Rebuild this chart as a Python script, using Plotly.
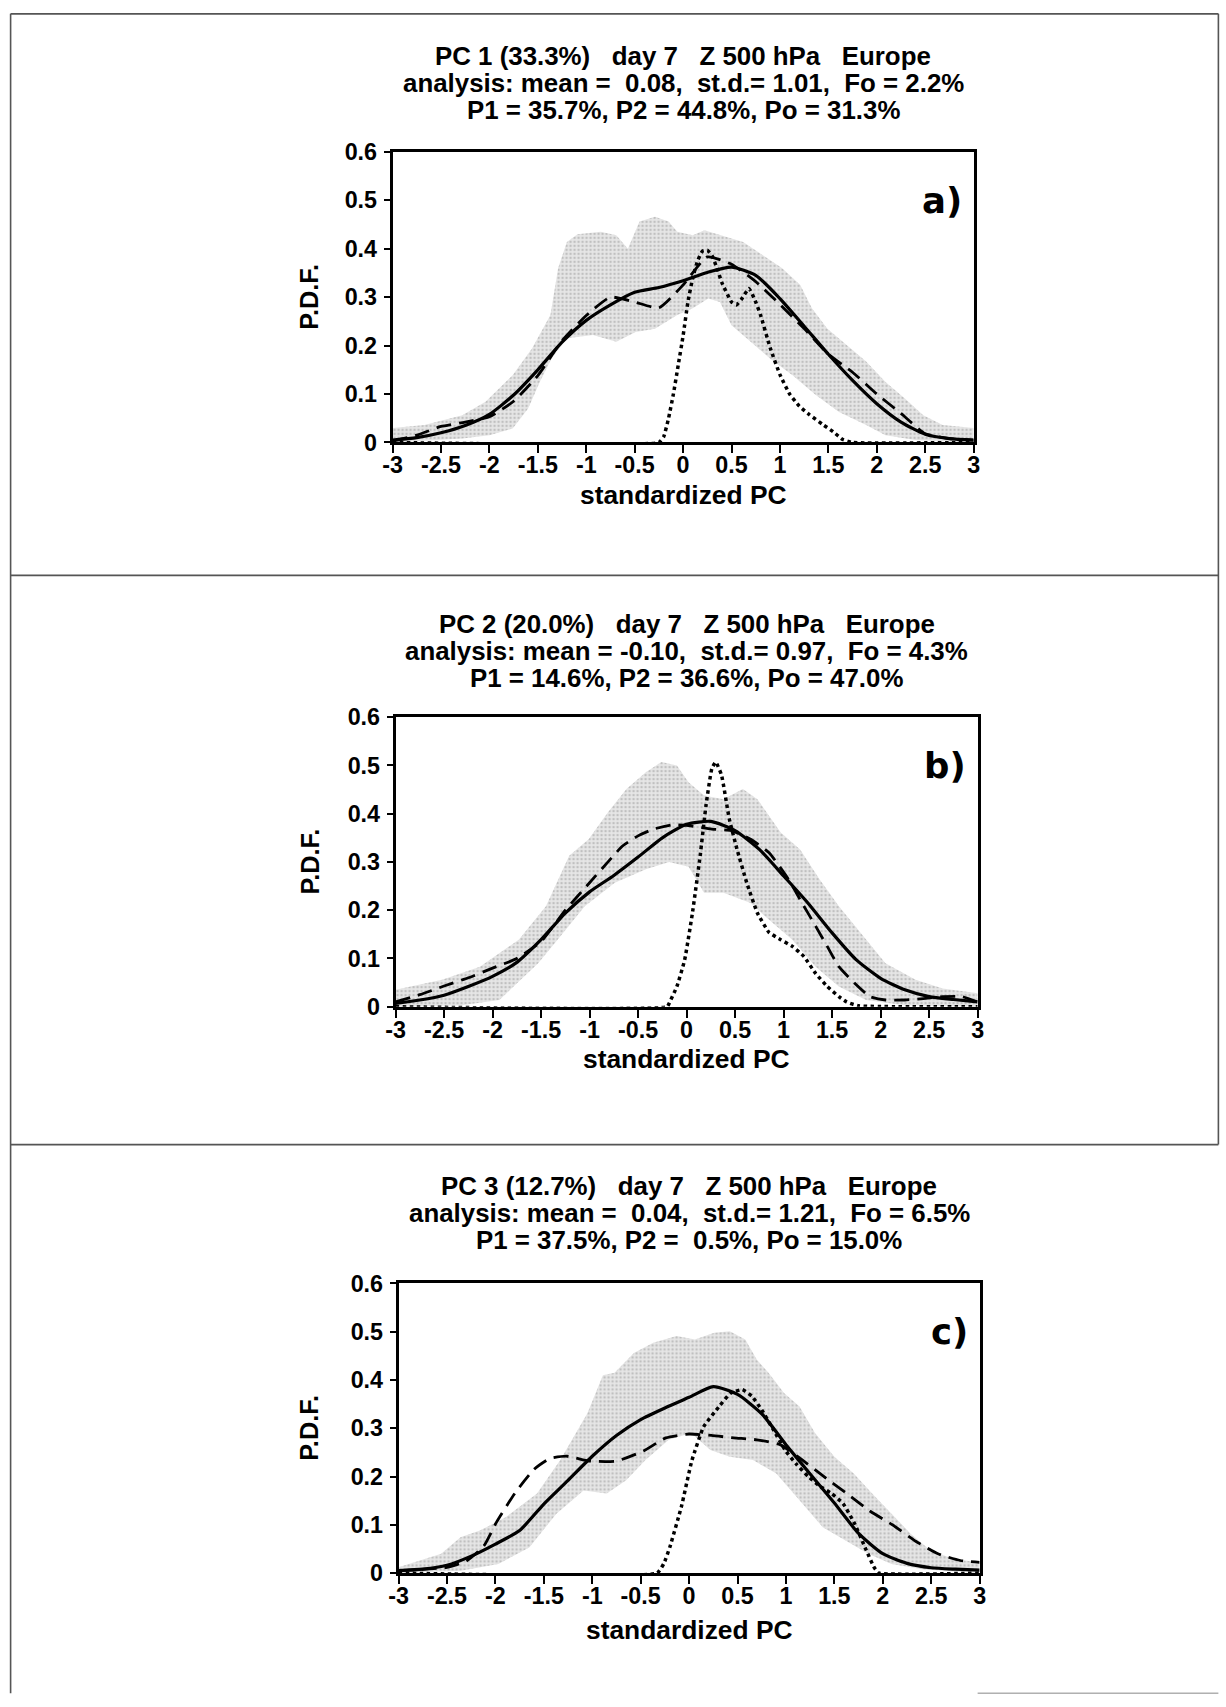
import plotly.graph_objects as go

W, H = 1226, 1707
# measured mapping between figure pixels and the photographed page: page = S * fig + offset
S, OX, OY = 0.986, 9.5, 11.0

# ---------------- data ----------------
GRID = [-3.0, -2.75, -2.5, -2.25, -2.0, -1.75, -1.5, -1.25, -1.0, -0.75, -0.5, -0.25,
        0.0, 0.25, 0.5, 0.75, 1.0, 1.25, 1.5, 1.75, 2.0, 2.25, 2.5, 2.75, 3.0]

XTICKS = [-3, -2.5, -2, -1.5, -1, -0.5, 0, 0.5, 1, 1.5, 2, 2.5, 3]
XTICK_LABELS = ["-3", "-2.5", "-2", "-1.5", "-1", "-0.5", "0", "0.5", "1", "1.5", "2", "2.5", "3"]
YTICKS = [0, 0.1, 0.2, 0.3, 0.4, 0.5, 0.6]
YTICK_LABELS = ["0", "0.1", "0.2", "0.3", "0.4", "0.5", "0.6"]

# panel a
A_SOLID = [0.005, 0.01, 0.02, 0.035, 0.058, 0.098, 0.15, 0.207, 0.252, 0.284, 0.31, 0.32,
           0.334, 0.351, 0.362, 0.345, 0.297, 0.24, 0.182, 0.128, 0.08, 0.042, 0.017, 0.008, 0.005]
A_DASH = [0.003, 0.015, 0.033, 0.042, 0.053, 0.085, 0.138, 0.21, 0.262, 0.3, 0.29, 0.278,
          0.325, 0.383, 0.368, 0.332, 0.285, 0.235, 0.182, 0.145, 0.1, 0.06, 0.018, 0.008, 0.005]
A_DOT_X = [-3, -0.25, -0.2, -0.15, -0.1, -0.05, 0, 0.05, 0.1, 0.15, 0.2, 0.25, 0.3, 0.35, 0.4,
           0.5, 0.55, 0.6, 0.68, 0.75, 0.8, 0.9, 1.0, 1.1, 1.2, 1.3, 1.45, 1.55, 1.65, 1.75, 3]
A_DOT_Y = [0, 0, 0.012, 0.05, 0.1, 0.16, 0.22, 0.29, 0.34, 0.375, 0.395, 0.397, 0.385, 0.36, 0.33,
           0.29, 0.284, 0.295, 0.318, 0.29, 0.263, 0.195, 0.14, 0.1, 0.075, 0.058, 0.036, 0.022, 0.006, 0, 0]
A_UP_X = [-3, -2.67, -2.28, -2.04, -1.76, -1.56, -1.37, -1.29, -1.2, -1.09, -0.85, -0.69, -0.57,
          -0.45, -0.29, -0.15, -0.06, 0.1, 0.22, 0.38, 0.62, 0.82, 1.02, 1.21, 1.33, 1.49, 1.69,
          1.89, 2.09, 2.29, 2.48, 2.68, 3]
A_UP_Y = [0.03, 0.036, 0.056, 0.084, 0.139, 0.194, 0.263, 0.36, 0.414, 0.43, 0.435, 0.428, 0.4,
          0.456, 0.466, 0.456, 0.435, 0.428, 0.438, 0.428, 0.414, 0.387, 0.36, 0.325, 0.277, 0.235,
          0.2, 0.167, 0.125, 0.091, 0.056, 0.036, 0.03]
A_LO_X = [-3, -2.28, -2.0, -1.76, -1.6, -1.48, -1.36, -1.2, -0.93, -0.69, -0.49, -0.29, -0.06,
          0.1, 0.26, 0.38, 0.5, 0.7, 0.9, 1.13, 1.37, 1.61, 1.89, 2.09, 2.4, 3]
A_LO_Y = [0, 0.008, 0.015, 0.029, 0.07, 0.125, 0.173, 0.215, 0.222, 0.208, 0.228, 0.235, 0.263,
          0.277, 0.297, 0.29, 0.242, 0.208, 0.173, 0.139, 0.098, 0.063, 0.036, 0.015, 0.005, 0]

# panel b
B_SOLID = [0.007, 0.014, 0.024, 0.042, 0.063, 0.092, 0.139, 0.194, 0.238, 0.272, 0.31, 0.35,
           0.378, 0.384, 0.365, 0.326, 0.271, 0.215, 0.153, 0.097, 0.059, 0.035, 0.021, 0.015, 0.01]
B_DASH_X = [-3, -2.75, -2.5, -2.25, -2, -1.75, -1.5, -1.25, -1, -0.81, -0.66, -0.5, -0.34, -0.14,
            0.02, 0.26, 0.46, 0.66, 0.85, 1.05, 1.17, 1.33, 1.45, 1.57, 1.73, 1.89, 2.05, 2.25,
            2.44, 2.64, 2.84, 3]
B_DASH_Y = [0.01, 0.025, 0.043, 0.06, 0.08, 0.1, 0.135, 0.2, 0.257, 0.3, 0.333, 0.354, 0.368,
            0.377, 0.375, 0.368, 0.365, 0.347, 0.319, 0.264, 0.222, 0.167, 0.125, 0.083, 0.049,
            0.021, 0.014, 0.014, 0.017, 0.021, 0.021, 0.01]
B_DOT_X = [-3, -0.2, -0.18, -0.1, -0.02, 0.06, 0.14, 0.2, 0.26, 0.3, 0.36, 0.44, 0.52, 0.62,
           0.73, 0.85, 0.97, 1.09, 1.21, 1.33, 1.45, 1.57, 1.65, 1.77, 3]
B_DOT_Y = [0, 0, 0.007, 0.042, 0.097, 0.194, 0.313, 0.417, 0.493, 0.507, 0.48, 0.389, 0.326,
           0.257, 0.194, 0.154, 0.139, 0.125, 0.104, 0.069, 0.042, 0.021, 0.01, 0.002, 0]
B_UP_X = [-3, -2.52, -2.13, -1.73, -1.45, -1.21, -1.01, -0.81, -0.62, -0.42, -0.26, -0.1, 0.02,
          0.18, 0.38, 0.58, 0.73, 0.97, 1.17, 1.37, 1.57, 1.85, 2.05, 2.36, 2.64, 3]
B_UP_Y = [0.035, 0.056, 0.083, 0.139, 0.208, 0.313, 0.347, 0.403, 0.451, 0.486, 0.507, 0.5, 0.465,
          0.4375, 0.43, 0.451, 0.43, 0.361, 0.326, 0.264, 0.208, 0.139, 0.09, 0.056, 0.038, 0.028]
B_LO_X = [-3, -2.32, -1.93, -1.53, -1.33, -1.05, -0.74, -0.42, -0.18, 0.02, 0.18, 0.38, 0.66,
          0.85, 1.09, 1.33, 1.57, 1.85, 2.25, 3]
B_LO_Y = [0, 0.003, 0.014, 0.09, 0.139, 0.208, 0.257, 0.285, 0.3, 0.29, 0.236, 0.236, 0.215,
          0.18, 0.139, 0.083, 0.042, 0.014, 0.003, 0]

# panel c
C_SOLID = [0.005, 0.008, 0.016, 0.035, 0.06, 0.088, 0.143, 0.192, 0.242, 0.285, 0.318, 0.342,
           0.364, 0.386, 0.37, 0.33, 0.266, 0.205, 0.145, 0.082, 0.04, 0.02, 0.011, 0.008, 0.006]
C_DASH_X = [-3, -2.5, -2.3, -2.12, -1.99, -1.8, -1.6, -1.44, -1.26, -1.03, -0.75, -0.47, -0.24,
            0, 0.23, 0.46, 0.7, 0.94, 1.13, 1.41, 1.64, 1.87, 2.1, 2.34, 2.57, 2.8, 3]
C_DASH_Y = [0.005, 0.012, 0.025, 0.056, 0.105, 0.165, 0.215, 0.237, 0.242, 0.232, 0.232, 0.253,
            0.28, 0.288, 0.285, 0.28, 0.276, 0.266, 0.24, 0.197, 0.163, 0.128, 0.1, 0.066, 0.04,
            0.026, 0.022]
C_DOT_X = [-3, -0.33, -0.26, -0.2, -0.08, 0.03, 0.15, 0.31, 0.43, 0.55, 0.65, 0.75, 0.87, 0.99,
           1.11, 1.23, 1.35, 1.47, 1.59, 1.71, 1.83, 1.91, 1.96, 3]
C_DOT_Y = [0, 0, 0.02, 0.053, 0.137, 0.234, 0.303, 0.345, 0.373, 0.38, 0.366, 0.338, 0.297,
           0.255, 0.225, 0.2, 0.18, 0.165, 0.144, 0.102, 0.047, 0.012, 0, 0]
C_UP_X = [-3, -2.56, -2.36, -2.16, -1.89, -1.57, -1.33, -1.05, -0.89, -0.77, -0.57, -0.37, -0.13,
          0.06, 0.26, 0.42, 0.58, 0.7, 0.82, 0.98, 1.14, 1.3, 1.5, 1.7, 1.89, 2.09, 2.29, 2.49,
          2.73, 3]
C_UP_Y = [0.012, 0.04, 0.074, 0.088, 0.116, 0.165, 0.234, 0.331, 0.41, 0.415, 0.456, 0.477,
          0.491, 0.484, 0.498, 0.501, 0.484, 0.442, 0.415, 0.373, 0.345, 0.29, 0.241, 0.206,
          0.165, 0.123, 0.081, 0.047, 0.029, 0.022]
C_LO_X = [-3, -2.36, -1.97, -1.65, -1.37, -1.09, -0.85, -0.65, -0.45, -0.21, 0.02, 0.22, 0.42,
          0.66, 0.9, 1.14, 1.38, 1.62, 1.85, 2.09, 2.41, 3]
C_LO_Y = [0, 0.005, 0.019, 0.053, 0.123, 0.171, 0.165, 0.192, 0.234, 0.276, 0.29, 0.255, 0.241,
          0.234, 0.206, 0.151, 0.095, 0.067, 0.04, 0.019, 0.008, 0]

A_TITLE = ["PC 1 (33.3%)   day 7   Z 500 hPa   Europe",
           "analysis: mean =  0.08,  st.d.= 1.01,  Fo = 2.2%",
           "P1 = 35.7%, P2 = 44.8%, Po = 31.3%"]
B_TITLE = ["PC 2 (20.0%)   day 7   Z 500 hPa   Europe",
           "analysis: mean = -0.10,  st.d.= 0.97,  Fo = 4.3%",
           "P1 = 14.6%, P2 = 36.6%, Po = 47.0%"]
C_TITLE = ["PC 3 (12.7%)   day 7   Z 500 hPa   Europe",
           "analysis: mean =  0.04,  st.d.= 1.21,  Fo = 6.5%",
           "P1 = 37.5%, P2 =  0.5%, Po = 15.0%"]

PANELS = [
    dict(tag="a)", solid=A_SOLID, dash=(GRID, A_DASH), dot=(A_DOT_X, A_DOT_Y),
         up=(A_UP_X, A_UP_Y), lo=(A_LO_X, A_LO_Y), title=A_TITLE),
    dict(tag="b)", solid=B_SOLID, dash=(B_DASH_X, B_DASH_Y), dot=(B_DOT_X, B_DOT_Y),
         up=(B_UP_X, B_UP_Y), lo=(B_LO_X, B_LO_Y), title=B_TITLE),
    dict(tag="c)", solid=C_SOLID, dash=(C_DASH_X, C_DASH_Y), dot=(C_DOT_X, C_DOT_Y),
         up=(C_UP_X, C_UP_Y), lo=(C_LO_X, C_LO_Y), title=C_TITLE),
]

# ---------------- layout (target page pixels: left, right, top, bottom) ----------------
FRAMES = [(392, 973, 150, 441), (395, 977, 716, 1006), (398, 979, 1283, 1573)]
TITLE_Y = [(54, 81, 108), (623, 650, 677), (1185, 1212, 1240)]
XLABEL_Y = [494, 1058, 1630]
YLABEL_X = 309

FONT = "Liberation Sans, Arial, Helvetica, sans-serif"


def fx(p):
    return min(max(((p - OX) / S) / W, 0.0005), 0.9995)


def fy(p):
    return min(max(1 - ((p - OY) / S) / H, 0.0005), 0.9995)


def fs(size):
    return size / S


fig = go.Figure()
annotations = []
layout_axes = {}

for i, (pan, fr) in enumerate(zip(PANELS, FRAMES)):
    n = "" if i == 0 else str(i + 1)
    xa, ya = "x" + n, "y" + n
    ux, uy = pan["up"]
    lx, ly = pan["lo"]
    fig.add_trace(go.Scatter(
        x=list(ux) + list(lx)[::-1], y=list(uy) + list(ly)[::-1],
        fill="toself", mode="lines", line=dict(width=0),
        fillcolor="rgba(215,215,215,0.9)",
        fillpattern=dict(shape=".", fgcolor="#9a9a9a", bgcolor="#e6e6e6", size=4, solidity=0.3),
        xaxis=xa, yaxis=ya, hoverinfo="skip", showlegend=False))
    fig.add_trace(go.Scatter(
        x=GRID, y=pan["solid"], mode="lines",
        line=dict(color="black", width=3.2, shape="spline", smoothing=0.6),
        xaxis=xa, yaxis=ya, showlegend=False))
    fig.add_trace(go.Scatter(
        x=pan["dash"][0], y=pan["dash"][1], mode="lines",
        line=dict(color="black", width=2.8, dash="15px,8px", shape="spline", smoothing=0.5),
        xaxis=xa, yaxis=ya, showlegend=False))
    fig.add_trace(go.Scatter(
        x=pan["dot"][0], y=pan["dot"][1], mode="lines",
        line=dict(color="black", width=3.5, dash="3.5px,3.5px", shape="spline", smoothing=0.4),
        xaxis=xa, yaxis=ya, showlegend=False))

    l, r, t, b = fr
    common = dict(showgrid=False, zeroline=False, showline=True, linecolor="black",
                  linewidth=2.6, mirror=True, ticks="outside", tickcolor="black", tickwidth=2,
                  tickfont=dict(family=FONT, size=fs(23), color="black", weight="bold"),
                  fixedrange=True)
    layout_axes["xaxis" + n] = dict(domain=[fx(l), fx(r)], range=[-3, 3], tickvals=XTICKS,
                                    ticktext=XTICK_LABELS, ticklen=8, ticklabelstandoff=-8,
                                    anchor=ya, **common)
    layout_axes["yaxis" + n] = dict(domain=[fy(b), fy(t)], range=[0, 0.6], tickvals=YTICKS,
                                    ticktext=YTICK_LABELS, ticklen=6, ticklabelstandoff=2,
                                    anchor=xa, **common)

    cx = (l + r) / 2
    for line, yy in zip(pan["title"], TITLE_Y[i]):
        annotations.append(dict(text="<b>" + line.replace("  ", "\u00a0\u00a0") + "</b>",
                                x=fx(cx), y=fy(yy), xref="paper", yref="paper",
                                xanchor="center", yanchor="middle", showarrow=False,
                                font=dict(family=FONT, size=fs(25.5), color="black")))
    annotations.append(dict(text="<b>standardized PC</b>", x=fx(cx), y=fy(XLABEL_Y[i]),
                            xref="paper", yref="paper", xanchor="center", yanchor="middle",
                            showarrow=False, font=dict(family=FONT, size=fs(26), color="black")))
    annotations.append(dict(text="<b>P.D.F.</b>", x=fx(YLABEL_X), y=fy((t + b) / 2),
                            xref="paper", yref="paper", xanchor="center", yanchor="middle",
                            textangle=-90, showarrow=False,
                            font=dict(family=FONT, size=fs(25), color="black")))
    annotations.append(dict(text="<b>" + pan["tag"] + "</b>", x=2.9, y=0.5, xref=xa, yref=ya,
                            xanchor="right", yanchor="middle", showarrow=False,
                            font=dict(family="DejaVu Sans, sans-serif", size=fs(35), color="black")))

BORDER = "#555555"
shapes = [
    dict(type="line", xref="paper", yref="paper", x0=fx(6), x1=fx(6), y0=fy(5), y1=fy(1707),
         line=dict(color=BORDER, width=1.6)),
    dict(type="line", xref="paper", yref="paper", x0=fx(6), x1=fx(1221), y0=fy(5), y1=fy(5),
         line=dict(color=BORDER, width=1.6)),
    dict(type="line", xref="paper", yref="paper", x0=fx(1221), x1=fx(1221), y0=fy(5), y1=fy(1144),
         line=dict(color=BORDER, width=1.6)),
    dict(type="line", xref="paper", yref="paper", x0=fx(6), x1=fx(1226), y0=fy(574), y1=fy(574),
         line=dict(color=BORDER, width=1.8)),
    dict(type="line", xref="paper", yref="paper", x0=fx(6), x1=fx(1226), y0=fy(1144), y1=fy(1144),
         line=dict(color=BORDER, width=1.8)),
    dict(type="line", xref="paper", yref="paper", x0=fx(977), x1=fx(1226), y0=fy(1702), y1=fy(1702),
         line=dict(color="#888888", width=1)),
]

fig.update_layout(width=W, height=H, margin=dict(l=0, r=0, t=0, b=0),
                  paper_bgcolor="white", plot_bgcolor="white", showlegend=False,
                  annotations=annotations, shapes=shapes, **layout_axes)

fig.write_html("out.html")
